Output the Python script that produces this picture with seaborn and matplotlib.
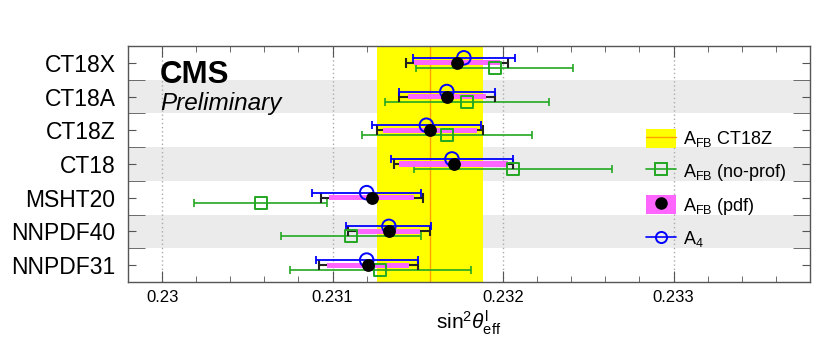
import numpy as np
import pandas as pd
import seaborn as sns
import matplotlib.pyplot as plt
from matplotlib.patches import Rectangle
from matplotlib.lines import Line2D
from matplotlib.ticker import MultipleLocator


# -------------------------------
# Data
# -------------------------------

pdfs = ["CT18X", "CT18A", "CT18Z", "CT18", "MSHT20", "NNPDF40", "NNPDF31"]

# A4
a4_val = [0.23177, 0.23167, 0.23155, 0.23170, 0.23120, 0.23133, 0.23120]
a4_err = [0.00030, 0.00028, 0.00032, 0.00036, 0.00032, 0.00025, 0.00030]

# AFB (total and pdf-only errors)
afb_val = [0.23173, 0.23167, 0.23157, 0.23171, 0.23123, 0.23133, 0.23121]
afb_err = [0.00030, 0.00028, 0.00031, 0.00035, 0.00030, 0.00024, 0.00029]
afb_pdf_err = [0.00025, 0.00023, 0.000275, 0.00032, 0.00025, 0.00018, 0.00024]

# AFB without profiling
noprof_val = [0.23195, 0.23179, 0.23167, 0.23206, 0.23058, 0.23111, 0.23128]
noprof_err = [0.00046, 0.00048, 0.00050, 0.00058, 0.00039, 0.00041, 0.00053]

xtick_vals = [0.230, 0.231, 0.232, 0.233]
xtick_labels = ["0.23", "0.231", "0.232", "0.233"]


# -------------------------------
# Style
# -------------------------------

sns.set_style("ticks")
plt.rcParams["font.family"] = ["Liberation Sans", "DejaVu Sans"]
plt.rcParams["mathtext.fontset"] = "custom"
plt.rcParams["mathtext.rm"] = "Liberation Sans"
plt.rcParams["mathtext.it"] = "Liberation Sans:italic"
plt.rcParams["mathtext.bf"] = "Liberation Sans:bold"
plt.rcParams["text.color"] = "black"
plt.rcParams["axes.labelcolor"] = "black"
plt.rcParams["xtick.labelcolor"] = "black"
plt.rcParams["ytick.labelcolor"] = "black"

green = "#22a822"
blue = "#0000ff"
pink = "#ff66ff"
yellow = "#ffff00"
orange = "#ffa000"

ypos = np.arange(len(pdfs))

df = pd.DataFrame({
    "pdf": pdfs,
    "y": ypos,
    "a4": a4_val,
    "afb": afb_val,
    "noprof": noprof_val,
})
df["y_a4"] = df["y"] - 0.15
df["y_noprof"] = df["y"] + 0.15


# -------------------------------
# Figure
# -------------------------------

fig = plt.figure(figsize=(8.3, 3.52), dpi=100)
ax = fig.add_axes([0.1542, 0.1989, 0.8217, 0.6704])

# alternating gray rows
for i in [1, 3, 5]:
    ax.axhspan(i - 0.5, i + 0.5, color="#ebebeb", lw=0, zorder=0)

# dotted grid lines
for x in xtick_vals:
    ax.axvline(x, color="#aaaaaa", ls=(0, (1, 2)), lw=1, zorder=0.5)

# CT18Z AFB band
c = afb_val[2]
e = afb_err[2]
ax.axvspan(c - e, c + e, color=yellow, lw=0, zorder=1)
ax.axvline(c, color=orange, lw=1, zorder=1.1)

# green: no-prof
ax.errorbar(df["noprof"], df["y_noprof"], xerr=noprof_err, fmt="none",
            ecolor=green, elinewidth=1.2, capsize=3, capthick=1.2, zorder=2)

# black: AFB total
ax.errorbar(df["afb"], df["y"], xerr=afb_err, fmt="none",
            ecolor="#222222", elinewidth=1.5, capsize=3.5, capthick=1.5, zorder=3)

# pink: AFB pdf
ax.barh(df["y"], [2 * v for v in afb_pdf_err],
        left=[v - w for v, w in zip(afb_val, afb_pdf_err)],
        height=0.15, color=pink, lw=0, zorder=3.5)

# blue: A4
ax.errorbar(df["a4"], df["y_a4"], xerr=a4_err, fmt="none",
            ecolor=blue, elinewidth=1.3, capsize=3, capthick=1.3, zorder=4)

# markers
sns.scatterplot(data=df, x="noprof", y="y_noprof", marker="s", s=75,
                facecolors="none", edgecolor=green, linewidth=1.4,
                legend=False, zorder=5, ax=ax)
sns.scatterplot(data=df, x="a4", y="y_a4", marker="o", s=95,
                facecolors="none", edgecolor=blue, linewidth=1.4,
                legend=False, zorder=5, ax=ax)
sns.scatterplot(data=df, x="afb", y="y", marker="o", s=85,
                color="black", edgecolor="black", linewidth=0,
                legend=False, zorder=6, ax=ax)


# -------------------------------
# Axes
# -------------------------------

ax.set_xlim(0.2298, 0.2338)
ax.set_ylim(6.5, -0.5)

ax.set_xticks(xtick_vals)
ax.set_xticklabels(xtick_labels)
ax.xaxis.set_minor_locator(MultipleLocator(0.0002))

ax.set_yticks(ypos)
ax.set_yticklabels(pdfs)
ax.set_yticks(np.arange(0.5, 6.5, 1), minor=True)

ax.tick_params(axis="x", which="major", direction="in", length=8,
               top=True, labelsize=12, pad=6, color="#555555")
ax.tick_params(axis="x", which="minor", direction="in", length=4,
               top=True, color="#555555")
ax.tick_params(axis="y", which="major", direction="in", length=6,
               right=True, labelsize=16.5, pad=9, color="#555555")
ax.tick_params(axis="y", which="minor", direction="in", length=12,
               right=True, color="#555555")

for sp in ax.spines.values():
    sp.set_color("#555555")
    sp.set_linewidth(1)
    sp.set_zorder(10)

ax.set_xlabel(r"sin$^{2}\theta^{\rm l}_{\rm eff}$", fontsize=15, labelpad=2)
ax.set_ylabel("")


# -------------------------------
# Labels and legend
# -------------------------------

fig.text(160 / 830, 1 - 83 / 352, "CMS", fontsize=22.5, fontweight="bold",
         va="baseline")
fig.text(160 / 830, 1 - 110 / 352, "Preliminary", fontsize=17.5,
         style="italic", va="baseline")

handles = [
    (Rectangle((0, 0), 1, 1, facecolor=yellow, edgecolor=yellow, lw=0),
     Line2D([], [], color=orange, lw=1)),
    Line2D([], [], color=green, lw=1.2, marker="s", mfc="none", mec=green,
           ms=8, mew=1.4),
    (Rectangle((0, 0), 1, 1, facecolor=pink, edgecolor=pink, lw=0),
     Line2D([], [], color="black", marker="o", ls="none", ms=8)),
    Line2D([], [], color=blue, lw=1.2, marker="o", mfc="none", mec=blue,
           ms=8, mew=1.4),
]
labels = [r"A$_{\rm FB}$ CT18Z", r"A$_{\rm FB}$ (no-prof)",
          r"A$_{\rm FB}$ (pdf)", r"A$_{4}$"]

ax.legend(handles, labels, loc="upper left", bbox_to_anchor=(0.759, 0.648),
          frameon=False, fontsize=13, handlelength=1.67, handleheight=1.2,
          labelspacing=0.68, handletextpad=0.4, borderaxespad=0,
          borderpad=0)

plt.savefig("out.png", dpi=100)
